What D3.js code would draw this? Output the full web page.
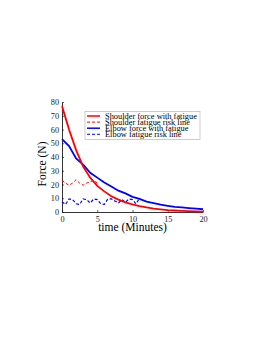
<!DOCTYPE html>
<html>
<head>
<meta charset="utf-8">
<script src="https://cdn.jsdelivr.net/npm/d3@7"></script>
<style>
  body { margin: 0; background: #fff; }
  text { font-family: "Liberation Serif", "DejaVu Serif", serif; }
</style>
</head>
<body>
<div id="chart"></div>
<script>
// minutes, one reading per minute for the force curves
var minutes = d3.range(0, 21);
var shoulderForce = [77, 60, 45, 33, 25, 19, 15, 11.5, 9, 7, 5.5, 4.3, 3.3, 2.5, 1.9, 1.4, 1.1, 0.8, 0.6, 0.4, 0.3];
var elbowForce = [53, 48, 39, 34.5, 28.5, 25, 21.5, 18.5, 15.5, 13.5, 11, 9.5, 7.5, 6.5, 5.3, 4.5, 3.8, 3.3, 2.8, 2.4, 2.0];

// risk lines, read every half minute
var shoulderRiskTime = d3.range(0, 5.01, 0.5);
var shoulderRisk = [23, 21, 19.5, 21, 23.5, 21, 19.5, 21, 22, 23, 21];
var elbowRiskTime = d3.range(0, 11.01, 0.5);
var elbowRisk = [7.5, 5.5, 9.5, 9, 6, 5.5, 9.5, 9, 6.5, 9.5, 9, 6, 5.5, 9.5, 9.5, 8, 6.5, 9, 7, 9.5, 9, 6, 10];

var xTicks = [0, 5, 10, 15, 20];
var yTicks = [0, 10, 20, 30, 40, 50, 60, 70, 80];

var series = [
  { name: "Shoulder force with fatigue", t: minutes, v: shoulderForce, color: "#ff0000", dash: null, w: 1.8 },
  { name: "Shoulder fatigue risk line", t: shoulderRiskTime, v: shoulderRisk, color: "#ff0000", dash: "3,2", w: 1 },
  { name: "Elbow force with fatigue", t: minutes, v: elbowForce, color: "#0000ff", dash: null, w: 1.8 },
  { name: "Elbow fatigue risk line", t: elbowRiskTime, v: elbowRisk, color: "#0000ff", dash: "3,2", w: 1.2 }
];

var width = 264, height = 341;
var plot = { left: 62, right: 203, top: 102, bottom: 212 };

var svg = d3.select("#chart").append("svg")
    .attr("width", width)
    .attr("height", height);

var x = d3.scaleLinear().domain([0, 20]).range([plot.left, plot.right]);
var y = d3.scaleLinear().domain([0, 80]).range([plot.bottom, plot.top]);

var xAxis = svg.append("g")
    .attr("transform", "translate(0," + plot.bottom + ")")
    .call(d3.axisBottom(x).tickValues(xTicks).tickSizeInner(-2).tickSizeOuter(0).tickPadding(4));
var yAxis = svg.append("g")
    .attr("transform", "translate(" + plot.left + ",0)")
    .call(d3.axisLeft(y).tickValues(yTicks).tickSizeInner(-2).tickSizeOuter(0).tickPadding(3));

[xAxis, yAxis].forEach(function (a) {
  a.select(".domain").attr("stroke", "#000").attr("stroke-width", 0.8);
  a.selectAll(".tick line").attr("stroke", "#000").attr("stroke-width", 0.6);
  a.selectAll("text").attr("font-size", 8.2).attr("fill", "#222")
    .style("font-family", "'Liberation Serif', serif");
});

var line = d3.line()
    .x(function (d) { return x(d[0]); })
    .y(function (d) { return y(d[1]); });

// draw elbow first so shoulder sits on top like the original
[series[3], series[1], series[2], series[0]].forEach(function (s) {
  svg.append("path")
    .datum(d3.zip(s.t, s.v))
    .attr("fill", "none")
    .attr("stroke", s.color)
    .attr("stroke-width", s.w)
    .attr("stroke-dasharray", s.dash)
    .attr("d", line);
});

svg.append("text")
    .attr("x", (plot.left + plot.right) / 2)
    .attr("y", 231)
    .attr("text-anchor", "middle")
    .attr("font-size", 11.5)
    .text("time (Minutes)");

svg.append("text")
    .attr("transform", "translate(45.5,164) rotate(-90)")
    .attr("text-anchor", "middle")
    .attr("font-size", 11.5)
    .text("Force (N)");

// legend
var lg = svg.append("g").attr("transform", "translate(85,111.5)");
lg.append("rect")
    .attr("width", 115).attr("height", 28)
    .attr("fill", "#fff")
    .attr("stroke", "#aaa").attr("stroke-width", 0.6);

var row = lg.selectAll("g.row").data(series).enter().append("g")
    .attr("class", "row")
    .attr("transform", function (d, i) { return "translate(0," + (4.5 + i * 6.1) + ")"; });
row.append("line")
    .attr("x1", 2).attr("x2", 15)
    .attr("stroke", function (d) { return d.color; })
    .attr("stroke-width", function (d) { return d.dash ? 1 : 1.5; })
    .attr("stroke-dasharray", function (d) { return d.dash; });
row.append("text")
    .attr("x", 20).attr("y", 2.8)
    .attr("font-size", 8.4)
    .text(function (d) { return d.name; });
</script>
</body>
</html>
